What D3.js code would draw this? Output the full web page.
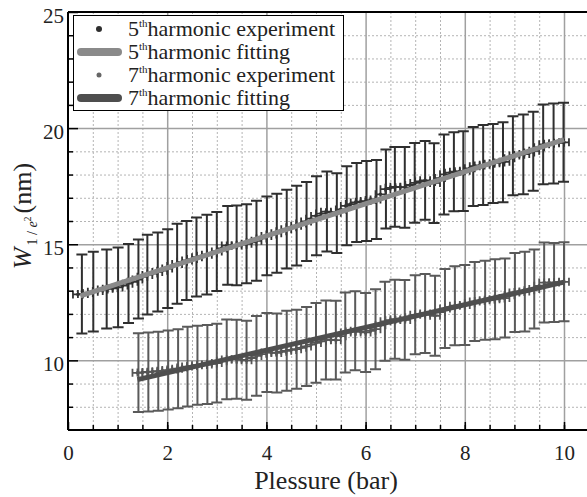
<!DOCTYPE html>
<html>
<head>
<meta charset="utf-8">
<script src="https://cdn.jsdelivr.net/npm/d3@7.9.0/dist/d3.min.js"></script>
<style>
  html, body { margin: 0; padding: 0; background: #fff; }
  svg { display: block; }
  .grid-major line { stroke: #a0a0a0; stroke-width: 1.5; }
  .grid-minor line { stroke: #b4b4b4; stroke-width: 1; stroke-dasharray: 2,2; }
  .grid-major path, .grid-minor path { display: none; }
  .axis path { display: none; }
  .axis line { stroke: #000; stroke-width: 1.5; }
</style>
</head>
<body>
<svg id="chart" width="587" height="497"></svg>
<script>
// ---- data ----

// 5th harmonic: dense experiment points (pressure in bar, W in nm)
const exp5P = [0.2,0.3,0.4,0.5,0.6,0.7,0.8,0.9,1.0,1.1,1.2,1.3,1.4,1.5,1.6,1.7,1.8,1.9,2.0,
  2.1,2.2,2.3,2.4,2.5,2.6,2.7,2.8,2.9,3.0,3.1,3.2,3.3,3.4,3.5,3.6,3.7,3.8,3.9,4.0,
  4.1,4.2,4.3,4.4,4.5,4.6,4.7,4.8,4.9,5.0,5.1,5.2,5.3,5.4,5.5,5.6,5.7,5.8,5.9,6.0,
  6.1,6.2,6.3,6.4,6.5,6.6,6.7,6.8,6.9,7.0,7.1,7.2,7.3,7.4,7.5,7.6,7.7,7.8,7.9,8.0,
  8.1,8.2,8.3,8.4,8.5,8.6,8.7,8.8,8.9,9.0,9.1,9.2,9.3,9.4,9.5,9.6,9.7,9.8,9.9,10.0];
const exp5W = [12.84,12.86,12.90,12.95,12.99,13.05,13.08,13.10,13.14,13.22,13.30,13.38,13.48,13.60,13.68,13.74,13.80,13.86,13.95,
  14.06,14.15,14.24,14.30,14.36,14.44,14.50,14.55,14.62,14.69,14.82,14.94,14.95,14.95,14.98,15.02,15.08,15.15,15.25,15.35,
  15.42,15.47,15.56,15.65,15.73,15.80,15.89,15.98,16.10,16.22,16.32,16.40,16.38,16.35,16.50,16.65,16.73,16.80,16.83,16.86,
  16.90,16.93,17.15,17.37,17.43,17.47,17.46,17.45,17.55,17.64,17.70,17.75,17.68,17.64,17.85,18.01,18.08,18.12,18.14,18.16,
  18.27,18.36,18.39,18.42,18.46,18.49,18.52,18.55,18.70,18.82,18.85,18.88,18.95,19.02,19.18,19.30,19.33,19.35,19.37,19.39];

// 5th harmonic: points carrying the large error bars
const bar5P = [0.28,0.51,0.78,1.01,1.22,1.42,1.60,1.81,2.01,2.20,2.39,2.59,2.80,3.00,3.22,3.40,3.60,3.80,4.01,4.21,
  4.41,4.61,4.81,5.01,5.22,5.42,5.62,5.82,6.02,6.22,6.41,6.59,6.79,6.99,7.20,7.38,7.58,7.78,7.97,8.17,
  8.37,8.57,8.77,8.97,9.18,9.38,9.58,9.79,9.99];
const bar5W = [12.86,12.96,13.07,13.14,13.31,13.50,13.69,13.80,13.95,14.16,14.30,14.45,14.55,14.69,14.95,14.95,15.02,15.15,15.36,15.47,
  15.65,15.80,15.98,16.23,16.41,16.34,16.66,16.80,16.86,16.93,17.38,17.47,17.45,17.64,17.75,17.63,18.00,18.12,18.15,18.35,
  18.41,18.48,18.53,18.81,18.87,19.00,19.30,19.34,19.39];
const bar5E = [1.70,1.72,1.70,1.72,1.70,1.70,1.72,1.70,1.70,1.72,1.70,1.70,1.72,1.70,1.70,1.72,1.70,1.72,1.70,1.70,
  1.70,1.72,1.70,1.70,1.72,1.72,1.70,1.70,1.72,1.70,1.70,1.72,1.74,1.72,1.70,1.72,1.72,1.70,1.72,1.70,
  1.72,1.70,1.72,1.70,1.72,1.70,1.72,1.72,1.70];

// 7th harmonic: dense experiment points
const exp7P = [1.4,1.5,1.6,1.7,1.8,1.9,2.0,2.1,2.2,2.3,2.4,2.5,2.6,2.7,2.8,2.9,3.0,3.1,3.2,3.3,3.4,3.5,3.6,3.7,3.8,3.9,4.0,
  4.1,4.2,4.3,4.4,4.5,4.6,4.7,4.8,4.9,5.0,5.1,5.2,5.3,5.4,5.5,5.6,5.7,5.8,5.9,6.0,
  6.1,6.2,6.3,6.4,6.5,6.6,6.7,6.8,6.9,7.0,7.1,7.2,7.3,7.4,7.5,7.6,7.7,7.8,7.9,8.0,
  8.1,8.2,8.3,8.4,8.5,8.6,8.7,8.8,8.9,9.0,9.1,9.2,9.3,9.4,9.5,9.6,9.7,9.8,9.9,10.0];
const exp7W = [9.46,9.48,9.50,9.51,9.53,9.55,9.58,9.61,9.64,9.69,9.73,9.76,9.79,9.80,9.82,9.85,9.88,9.96,10.04,10.05,10.05,10.02,10.00,10.10,10.19,10.27,10.34,
  10.33,10.32,10.37,10.41,10.45,10.48,10.54,10.60,10.68,10.75,10.82,10.88,10.88,10.87,11.04,11.20,11.24,11.27,11.23,11.20,
  11.27,11.34,11.51,11.68,11.73,11.77,11.76,11.74,11.85,11.96,11.99,12.02,11.97,11.92,12.08,12.23,12.29,12.35,12.37,12.38,
  12.46,12.53,12.56,12.59,12.61,12.63,12.66,12.68,12.80,12.92,12.94,12.96,13.02,13.07,13.21,13.35,13.35,13.35,13.37,13.38];

// 7th harmonic: points carrying the large error bars
const bar7P = [1.42,1.62,1.82,2.02,2.22,2.41,2.61,2.81,3.00,3.20,3.40,3.60,3.80,4.01,4.21,4.41,4.61,4.81,5.00,5.20,
  5.40,5.59,5.79,6.00,6.20,6.39,6.59,6.79,7.00,7.20,7.40,7.60,7.80,8.00,8.20,8.41,8.61,8.81,9.01,9.21,
  9.40,9.60,9.80,10.00];
const bar7W = [9.47,9.50,9.53,9.58,9.64,9.73,9.79,9.82,9.88,10.04,10.05,10.00,10.19,10.34,10.32,10.41,10.48,10.60,10.75,10.88,
  10.87,11.20,11.27,11.20,11.34,11.68,11.77,11.74,11.96,12.02,11.92,12.23,12.35,12.38,12.53,12.59,12.63,12.68,12.92,12.96,
  13.07,13.35,13.35,13.38];
const bar7E = [1.70,1.70,1.70,1.70,1.70,1.72,1.70,1.70,1.70,1.72,1.70,1.70,1.72,1.70,1.70,1.72,1.70,1.70,1.72,1.70,
  1.70,1.72,1.70,1.70,1.72,1.70,1.70,1.72,1.70,1.70,1.72,1.70,1.70,1.72,1.70,1.70,1.72,1.70,1.70,1.72,
  1.70,1.72,1.70,1.70];

// fitting lines (end points)
const fit5P = [0.25, 10.0];
const fit5W = [12.78, 19.5];
const fit7P = [1.4, 10.0];
const fit7W = [9.17, 13.37];

const xErr = 0.1; // horizontal error of each dense point (bar)

const xMajor = [0, 2, 4, 6, 8, 10];
const yMajor = [10, 15, 20, 25];

const legendItems = [
  { kind: 'dot', order: '5', label: 'harmonic experiment', color: '#2e2e2e', r: 3 },
  { kind: 'line', order: '5', label: 'harmonic fitting', color: '#8a8a8a' },
  { kind: 'dot', order: '7', label: 'harmonic experiment', color: '#666', r: 2.5 },
  { kind: 'line', order: '7', label: 'harmonic fitting', color: '#4e4e4e' },
];

// ---- layout ----
const SERIF = '"Liberation Serif", Tinos, "DejaVu Serif", "Noto Serif", serif';
const svg = d3.select('#chart');
const plotLeft = 68, plotTop = 12, plotBottom = 430;
const x = d3.scaleLinear().domain([0, 10.5]).range([plotLeft, plotLeft + 49.6 * 10.5]);
const y = d3.scaleLinear().domain([7, 25]).range([plotBottom, plotTop]);
const plotRight = x(10.5);

svg.append('defs').append('clipPath').attr('id', 'plot-clip')
  .append('rect').attr('x', plotLeft).attr('y', plotTop)
  .attr('width', plotRight - plotLeft).attr('height', plotBottom - plotTop);

// grid
const xMinor = d3.range(0.5, 10.6, 0.5).filter((d) => d % 2 !== 0);
const yMinor = d3.range(8, 25, 1).filter((d) => d % 5 !== 0);

svg.append('g').attr('class', 'grid-minor').attr('transform', `translate(0,${plotBottom})`)
  .call(d3.axisBottom(x).tickValues(xMinor).tickSize(-(plotBottom - plotTop)).tickFormat(''));
svg.append('g').attr('class', 'grid-minor').attr('transform', `translate(${plotLeft},0)`)
  .call(d3.axisLeft(y).tickValues(yMinor).tickSize(-(plotRight - plotLeft)).tickFormat(''));
svg.append('g').attr('class', 'grid-major').attr('transform', `translate(0,${plotBottom})`)
  .call(d3.axisBottom(x).tickValues(xMajor.slice(1)).tickSize(-(plotBottom - plotTop)).tickFormat(''));
svg.append('g').attr('class', 'grid-major').attr('transform', `translate(${plotLeft},0)`)
  .call(d3.axisLeft(y).tickValues([10, 15, 20]).tickSize(-(plotRight - plotLeft)).tickFormat(''));

const plot = svg.append('g').attr('clip-path', 'url(#plot-clip)');

function drawSeries(expP, expW, barP, barW, barE, barColor, dotColor, fitP, fitW, fitColor) {
  const bars = barP.map((p, i) => ({ p, w: barW[i], e: barE[i] }));
  const g = plot.append('g').attr('stroke', barColor).attr('stroke-width', 2).attr('fill', 'none');
  g.selectAll('path.ebar').data(bars).join('path').attr('class', 'ebar')
    .attr('d', (d) => {
      const cx = x(d.p), y0 = y(d.w - d.e), y1 = y(d.w + d.e);
      return `M${cx},${y0}V${y1}M${cx - 5.5},${y1}H${cx + 5.5}M${cx - 5.5},${y0}H${cx + 5.5}`;
    });

  const pts = expP.map((p, i) => ({ p, w: expW[i] }));
  const h = plot.append('g').attr('stroke', dotColor).attr('stroke-width', 1.8).attr('fill', 'none');
  h.selectAll('path.xbar').data(pts).join('path').attr('class', 'xbar')
    .attr('d', (d) => {
      const cy = y(d.w), x0 = x(d.p - xErr), x1 = x(d.p + xErr);
      return `M${x0},${cy}H${x1}M${x0},${cy - 4}V${cy + 4}M${x1},${cy - 4}V${cy + 4}`;
    });
  plot.append('g').selectAll('circle').data(pts).join('circle')
    .attr('cx', (d) => x(d.p)).attr('cy', (d) => y(d.w)).attr('r', 1.8).attr('fill', dotColor);

  const fit = fitP.map((p, i) => ({ p, w: fitW[i] }));
  plot.append('path').datum(fit)
    .attr('d', d3.line().x((d) => x(d.p)).y((d) => y(d.w)))
    .attr('stroke', fitColor).attr('stroke-width', 5).attr('fill', 'none');
}

drawSeries(exp5P, exp5W, bar5P, bar5W, bar5E, '#2f2f2f', '#333', fit5P, fit5W, '#8a8a8a');
drawSeries(exp7P, exp7W, bar7P, bar7W, bar7E, '#5a5a5a', '#555', fit7P, fit7W, '#4e4e4e');

// axes (inward ticks)
svg.append('g').attr('class', 'axis').attr('transform', `translate(0,${plotBottom})`)
  .call(d3.axisBottom(x).tickValues(d3.range(0.5, 10.6, 0.5)).tickSize(-5).tickFormat(''));
const gx = svg.append('g').attr('class', 'axis').attr('transform', `translate(0,${plotBottom})`)
  .call(d3.axisBottom(x).tickValues(xMajor).tickSize(-8).tickFormat(d3.format('d')));
gx.attr('font-size', 21).attr('font-family', null);
gx.selectAll('text').attr('y', 30).attr('dy', null).attr('fill', '#222');

svg.append('g').attr('class', 'axis').attr('transform', `translate(${plotLeft},0)`)
  .call(d3.axisLeft(y).tickValues(yMinor).tickSize(-5).tickFormat(''));
const gy = svg.append('g').attr('class', 'axis').attr('transform', `translate(${plotLeft},0)`)
  .call(d3.axisLeft(y).tickValues(yMajor).tickSize(-10).tickFormat(d3.format('d')));
gy.attr('font-size', 21).attr('font-family', null);
gy.selectAll('text').attr('x', -4).attr('dy', '0.5em').attr('fill', '#222');

// frame lines
svg.append('line').attr('x1', plotLeft).attr('x2', plotLeft).attr('y1', plotTop).attr('y2', plotBottom)
  .attr('stroke', '#000').attr('stroke-width', 2);
svg.append('line').attr('x1', plotLeft).attr('x2', plotRight).attr('y1', plotBottom).attr('y2', plotBottom)
  .attr('stroke', '#000').attr('stroke-width', 2);
svg.append('line').attr('x1', plotLeft).attr('x2', plotRight).attr('y1', plotTop).attr('y2', plotTop)
  .attr('stroke', '#000').attr('stroke-width', 2);

// axis titles
svg.append('text').attr('x', 326).attr('y', 489)
  .attr('text-anchor', 'middle').attr('font-size', 26).attr('fill', '#222')
  .text('Plessure (bar)');

const yt = svg.append('text').attr('transform', 'translate(31,216) rotate(-90)')
  .attr('text-anchor', 'middle').attr('font-size', 26).attr('fill', '#222');
yt.append('tspan').attr('font-style', 'italic').text('W');
yt.append('tspan').attr('font-size', 14).attr('dy', 6).attr('dx', 2).text('1 / ');
yt.append('tspan').attr('font-size', 14).attr('font-style', 'italic').text('e');
yt.append('tspan').attr('font-size', 10).attr('dy', -6).text('2');
yt.append('tspan').attr('dy', 0).attr('dx', 3).text('(nm)');

// legend
const lg = svg.append('g');
lg.append('rect').attr('x', 73.5).attr('y', 15.5).attr('width', 270).attr('height', 95)
  .attr('fill', '#fff').attr('stroke', '#000').attr('stroke-width', 1);
legendItems.forEach((d, i) => {
  const cy = 29 + i * 23;
  if (d.kind === 'dot') {
    lg.append('circle').attr('cx', 99).attr('cy', cy).attr('r', d.r).attr('fill', d.color);
  } else {
    lg.append('line').attr('x1', 81).attr('x2', 118).attr('y1', cy).attr('y2', cy)
      .attr('stroke', d.color).attr('stroke-width', 8).attr('stroke-linecap', 'round');
  }
  const t = lg.append('text').attr('x', 128).attr('y', cy + 7).attr('font-size', 22).attr('fill', '#222');
  t.append('tspan').text(d.order);
  t.append('tspan').attr('font-size', 11).attr('dy', -9).text('th');
  t.append('tspan').attr('dy', 9).text(d.label);
});

// serif everywhere (set inline on every text element)
svg.selectAll('text').style('font-family', SERIF);
</script>
</body>
</html>
